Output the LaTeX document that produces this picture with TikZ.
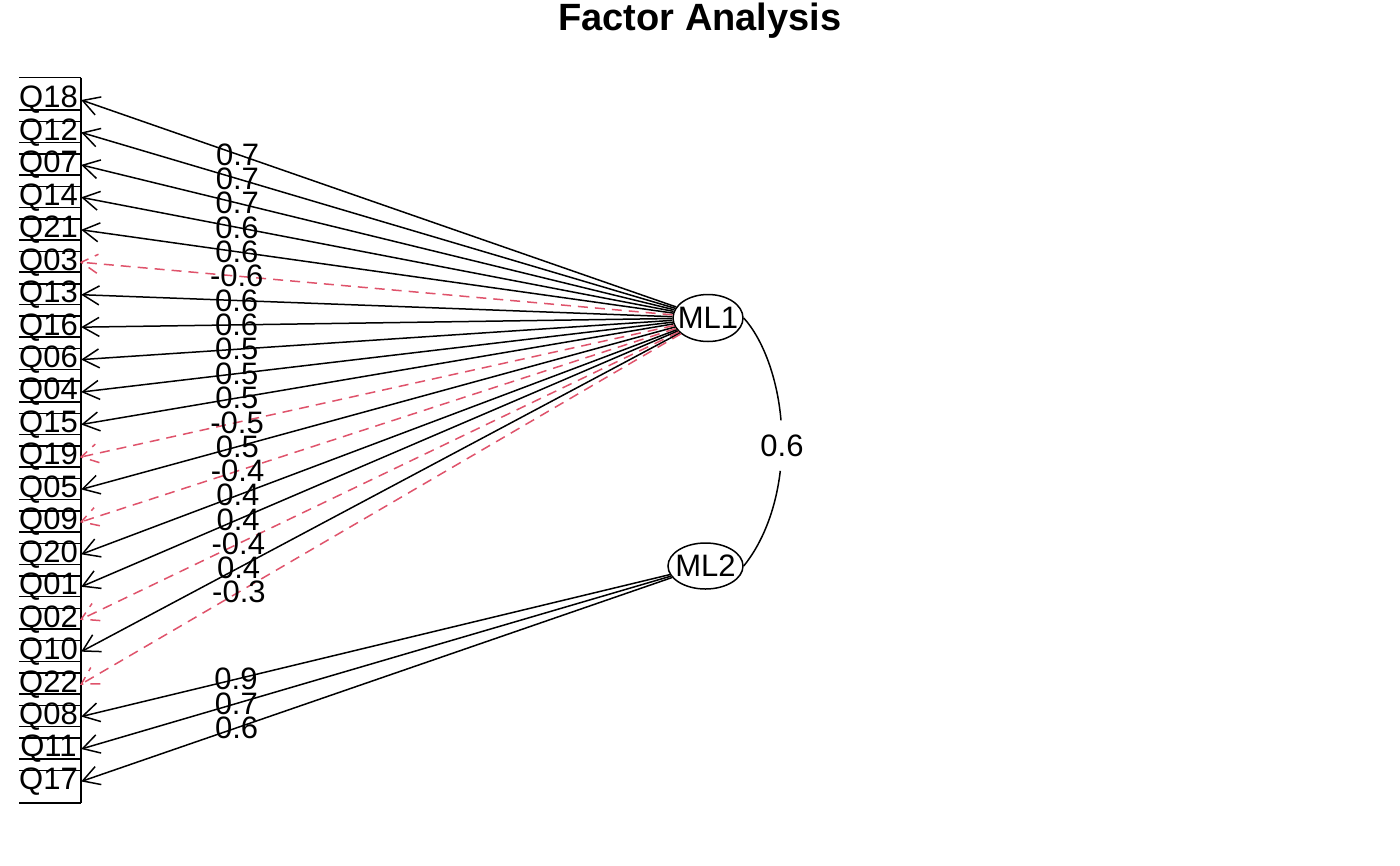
\documentclass[tikz,border=0pt]{standalone}
\usepackage{fontspec}
\setmainfont{Liberation Sans}
\usetikzlibrary{arrows.meta,decorations.markings,shapes.geometric}
\definecolor{lred}{HTML}{DF536B}
\begin{document}
\begin{tikzpicture}[x=1pt,y=-1pt,
  every node/.style={inner sep=0pt},
  lw/.style={line width=1.5pt},
  qlab/.style={font=\fontsize{31}{37}\selectfont, minimum width=65pt, anchor=center},
  lab/.style={font=\fontsize{31}{37}\selectfont},
  boxline/.style={line width=1.5pt},
  fac/.style={ellipse, draw, line width=1.5pt, font=\fontsize{31}{37}\selectfont},
  posload/.style={lw, -{Straight Barb[length=16.5pt,width=19pt]}},
  negload/.style={lw, lred, dash pattern=on 10pt off 7pt, postaction={decorate},
    decoration={markings, mark=at position 1 with {\draw[lred, line width=1.5pt, dash pattern=on 10pt off 7pt] (-16.5pt,9.5pt) -- (0pt,0pt) -- (-16.5pt,-9.5pt);}}},
]
\useasboundingbox (0,0) rectangle (1400,865);

\node[font=\fontsize{38}{44}\selectfont\bfseries] (title) at (700,21) {Factor Analysis};

% variable boxes
\foreach \k in {0,...,21} {
  \draw[boxline] (19,{100+32.45*\k-22.5}) -- (81,{100+32.45*\k-22.5})
                 (19,{100+32.45*\k+21.5}) -- (81,{100+32.45*\k+21.5});
}
\draw[boxline] (81,77.5) -- (81,803);

\foreach \n [count=\k from 0] in {Q18,Q12,Q07,Q14,Q21,Q03,Q13,Q16,Q06,Q04,Q15,Q19,Q05,Q09,Q20,Q01,Q02,Q10,Q22,Q08,Q11,Q17}
  \node[qlab] (\n) at (48.5,{100+32.45*(\k)}) {\n};

% factors
\node[fac, minimum width=70pt, minimum height=47pt] (ML1) at (708,318) {\makebox[0pt]{ML1}};
\node[fac, minimum width=75pt, minimum height=46pt] (ML2) at (705.5,566) {\makebox[0pt]{ML2}};

% loadings ML1
\draw[posload] (ML1) -- node[lab,pos=0.737]{0.7} (Q18.east);
\draw[posload] (ML1) -- node[lab,pos=0.737]{0.7} (Q12.east);
\draw[posload] (ML1) -- node[lab,pos=0.737]{0.7} (Q07.east);
\draw[posload] (ML1) -- node[lab,pos=0.737]{0.6} (Q14.east);
\draw[posload] (ML1) -- node[lab,pos=0.737]{0.6} (Q21.east);
\draw[negload] (ML1) -- node[lab,text=black,pos=0.737]{-0.6} (Q03.east);
\draw[posload] (ML1) -- node[lab,pos=0.737]{0.6} (Q13.east);
\draw[posload] (ML1) -- node[lab,pos=0.737]{0.6} (Q16.east);
\draw[posload] (ML1) -- node[lab,pos=0.737]{0.5} (Q06.east);
\draw[posload] (ML1) -- node[lab,pos=0.737]{0.5} (Q04.east);
\draw[posload] (ML1) -- node[lab,pos=0.737]{0.5} (Q15.east);
\draw[negload] (ML1) -- node[lab,text=black,pos=0.737]{-0.5} (Q19.east);
\draw[posload] (ML1) -- node[lab,pos=0.737]{0.5} (Q05.east);
\draw[negload] (ML1) -- node[lab,text=black,pos=0.737]{-0.4} (Q09.east);
\draw[posload] (ML1) -- node[lab,pos=0.737]{0.4} (Q20.east);
\draw[posload] (ML1) -- node[lab,pos=0.737]{0.4} (Q01.east);
\draw[negload] (ML1) -- node[lab,text=black,pos=0.737]{-0.4} (Q02.east);
\draw[posload] (ML1) -- node[lab,pos=0.737]{0.4} (Q10.east);
\draw[negload] (ML1) -- node[lab,text=black,pos=0.737]{-0.3} (Q22.east);

% loadings ML2
\draw[posload] (ML2) -- node[lab,pos=0.737]{0.9} (Q08.east);
\draw[posload] (ML2) -- node[lab,pos=0.737]{0.7} (Q11.east);
\draw[posload] (ML2) -- node[lab,pos=0.737]{0.6} (Q17.east);

% factor correlation
\node[lab] (r12) at (782,446) {0.6};
\coordinate (cA) at (781,420.3);
\coordinate (cB) at (780.3,470.8);
\draw[lw] (ML1.east) .. controls (762,338.1) and (777.2,376.1) .. (cA);
\draw[lw] (cB) .. controls (775.8,509.2) and (762.7,542.4) .. (ML2.east);
\end{tikzpicture}
\end{document}
